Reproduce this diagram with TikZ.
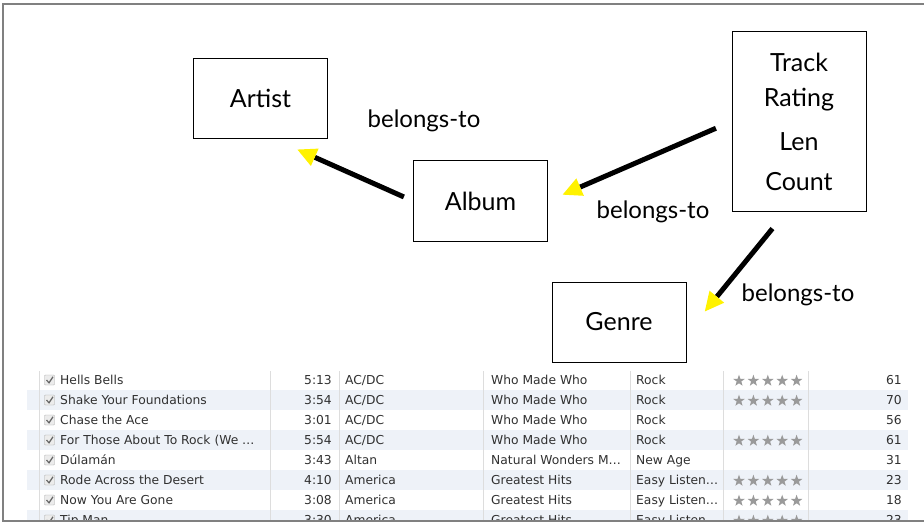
\documentclass[tikz,border=0pt]{standalone}
\usepackage{fontspec}
\setmainfont{Lato}
\newfontfamily\listfont{DejaVu Sans}
\usetikzlibrary{arrows.meta}
\definecolor{framegray}{HTML}{808080}
\definecolor{stripe}{HTML}{EEF2F8}
\definecolor{sepgray}{HTML}{DDDDDD}
\definecolor{cellgray}{HTML}{303030}
\definecolor{stargray}{HTML}{9A9A9A}

\begin{document}
\begin{tikzpicture}[x=1pt,y=-1pt,
    box/.style={draw, line width=1pt, minimum width=134pt, minimum height=80pt,
        inner sep=0pt, font=\fontsize{25}{37}\selectfont},
    belongs/.style={line width=5pt,
        -{Triangle[length=19pt,width=19pt,color=yellow,line width=0pt]}},
    lbl/.style={font=\fontsize{24}{28}\selectfont},
    cell/.style={font=\listfont\fontsize{12.3}{14}\selectfont, text=cellgray, inner sep=0pt},
    ratingstar/.pic={\fill[stargray] (-90:6.1)
        \foreach \k in {1,...,9} {-- ({-90+36*\k}:{mod(\k,2)==1 ? 2.45 : 6.1})} -- cycle;}]
    \useasboundingbox (0,0) rectangle (924,524);

    % the entity boxes
    \node[box] (artist) at (260.5,98.5) {Artist};
    \node[box] (album) at (480.5,201) {Album};
    \node[box, minimum height=179pt, align=center] (track) at (799,121.5)
        {Track\\[-1.5pt]Rating\\[6.5pt]Len\\[3pt]Count};
    \node[box] (genre) at (619,322) {Genre};

    % belongs-to links
    \draw[belongs, shorten <=10pt, shorten >=26pt] (album.west) -- (artist.-72);
    \draw[belongs, shorten <=17pt, shorten >=16pt] (track.west) -- (album.east);
    \draw[belongs, shorten <=22pt, shorten >=29pt] (track.-98) -- (genre.-10);

    % text on the links
    \node[lbl] (belongs1) at (424,121) {belongs-to};
    \node[lbl] (belongs2) at (653,212) {belongs-to};
    \node[lbl] (belongs3) at (798,295) {belongs-to};

    % the song list
    \begin{scope}
        \clip (4,365) rectangle (924,520);
        %stripes
        \foreach \i in {2,4,6,8}
            \fill[stripe] (27,{350+20*\i}) rectangle (908,{370+20*\i});
        %column lines
        \foreach \x in {39,270,339,483,630,723,808}
            \draw[sepgray] (\x,371) -- (\x,524);
        %rows
        \foreach \song/\dur/\band/\record/\kind/\rated/\plays [count=\i] in {
            {Hells Bells}/5:13/{AC/DC}/{Who Made Who}/Rock/1/61,
            {Shake Your Foundations}/3:54/{AC/DC}/{Who Made Who}/Rock/1/70,
            {Chase the Ace}/3:01/{AC/DC}/{Who Made Who}/Rock/0/56,
            {For Those About To Rock (We …}/5:54/{AC/DC}/{Who Made Who}/Rock/1/61,
            {Dúlamán}/3:43/Altan/{Natural Wonders M…}/{New Age}/0/31,
            {Rode Across the Desert}/4:10/America/{Greatest Hits}/{Easy Listen…}/1/23,
            {Now You Are Gone}/3:08/America/{Greatest Hits}/{Easy Listen…}/1/18,
            {Tip Man}/3:30/America/{Greatest Hits}/{Easy Listen…}/1/23}
        {
            \pgfmathsetmacro\y{360+20*\i}
            % check box
            \draw[gray!70, fill=gray!15, rounded corners=0.8pt] (44.5,\y-5) rectangle (54.5,\y+5);
            \draw[black!60, line width=1.2pt] (46.5,\y) -- (49,\y+2.8) -- (53,\y-3.2);
            \node[cell, anchor=base west] (song-\i) at (60,\y+4.5) {\song};
            \node[cell, anchor=base east] (dur-\i) at (332,\y+4.5) {\dur};
            \node[cell, anchor=base west] (band-\i) at (345,\y+4.5) {\band};
            \node[cell, anchor=base west] (record-\i) at (491,\y+4.5) {\record};
            \node[cell, anchor=base west] (kind-\i) at (636,\y+4.5) {\kind};
            \ifnum\rated=1
                \foreach \j in {0,...,4}
                    \pic at ({739+14.4*\j},\y+0.8) {ratingstar};
            \fi
            \node[cell, anchor=base east] (plays-\i) at (902,\y+4.5) {\plays};
        }
    \end{scope}

    % slide frame
    \draw[framegray, line width=1.5pt] (924,4) -- (3,4) -- (3,521) -- (924,521);
\end{tikzpicture}
\end{document}
